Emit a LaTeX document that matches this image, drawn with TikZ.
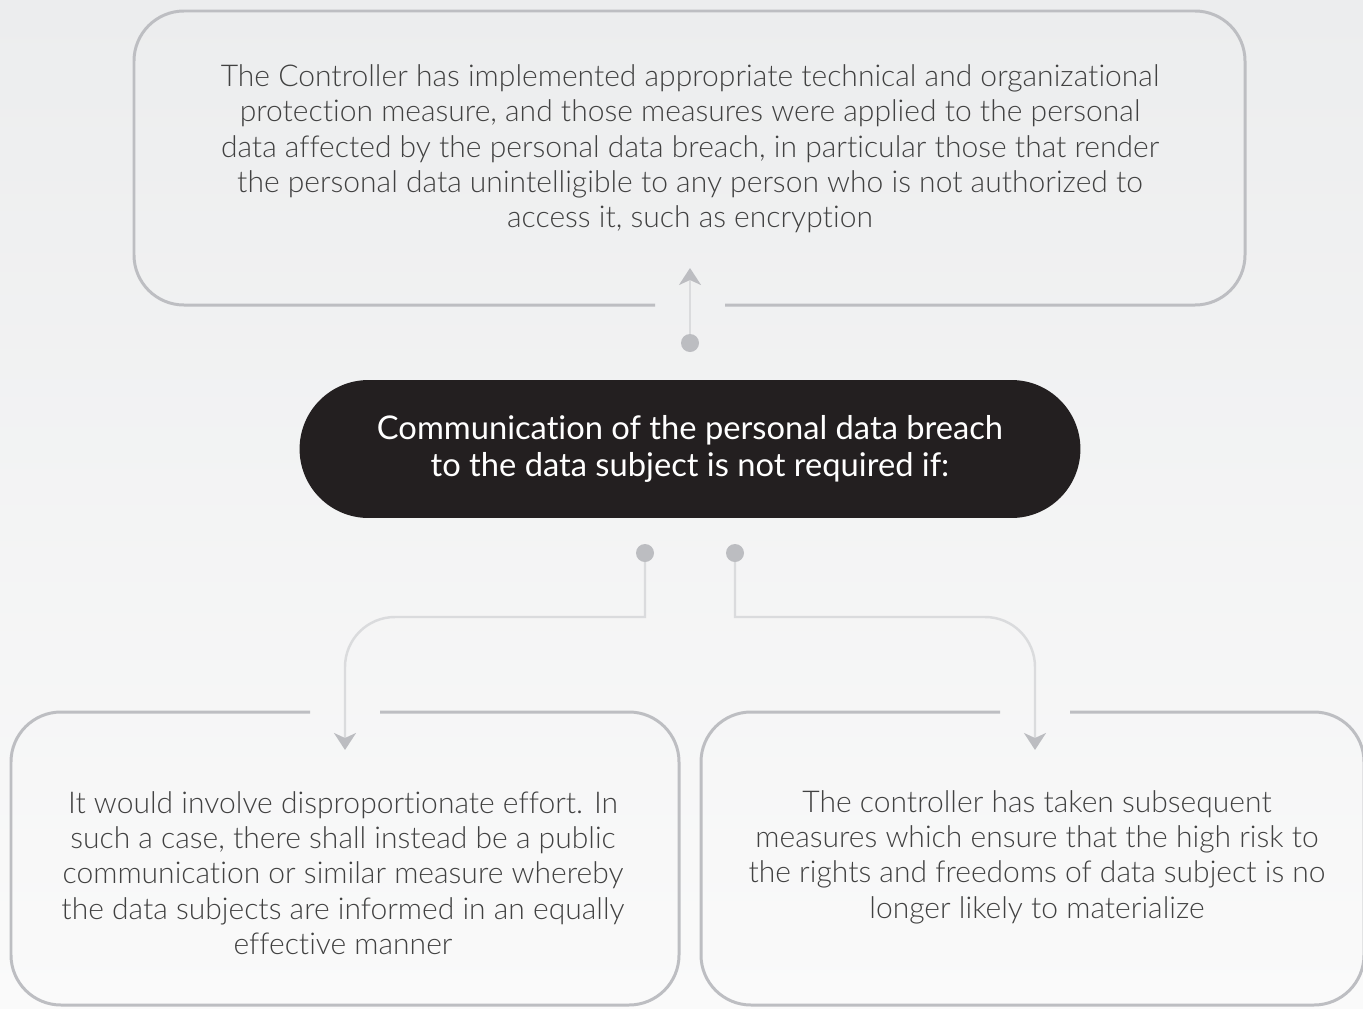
\documentclass[tikz,border=0pt]{standalone}
\usepackage{fontspec}
\setmainfont{Lato}[UprightFont=* Light, Ligatures=NoCommon]
\newfontfamily\pillfont{Lato}[Ligatures=NoCommon]
\usetikzlibrary{arrows.meta}

\definecolor{bgtop}{HTML}{ECEDEE}
\definecolor{bgbot}{HTML}{FAFAFA}
\definecolor{framegray}{HTML}{BDBEC2}
\definecolor{linkgray}{HTML}{DADBDD}
\definecolor{dotgray}{HTML}{BCBDC1}
\definecolor{inkgray}{HTML}{414141}
\definecolor{pillblack}{HTML}{231F20}

\tikzset{
  frame/.style={draw=framegray, line width=1.7pt, rounded corners=1cm},
  link/.style={draw=linkgray, line width=1.4pt, line cap=rect, rounded corners=1cm},
  txt/.style={text=inkgray, align=center, font=\fontsize{17.1}{20.1}\selectfont},
  pill/.style={fill=pillblack, text=white, align=center, rounded corners=1.38cm,
    minimum width=15.62cm, minimum height=2.76cm, font=\pillfont\fontsize{18.6}{21.5}\selectfont}
}

\begin{document}
\begin{tikzpicture}[x=0.02cm, y=-0.02cm,
    >={Stealth[length=0.34cm, width=0.44cm, inset=0.1cm, color=dotgray]}]
  \useasboundingbox (0,0) rectangle (1363,1008);
  \clip (0,0) rectangle (1363,1008);
  \shade[top color=bgtop, bottom color=bgbot] (0,0) rectangle (1363,1008);

  % frames, each with a gap where its arrow comes in
  \draw[frame] (725,305) -- (1245,305) -- (1245,11) -- (134,11) -- (134,305) -- (655,305);
  \draw[frame] (380,712) -- (679,712) -- (679,1005) -- (11,1005) -- (11,712) -- (310,712);
  \draw[frame] (1070,712) -- (1364,712) -- (1364,1005) -- (701,1005) -- (701,712) -- (1000,712);

  \node[txt] (measures) at (690,149) {The Controller has implemented appropriate technical and organizational\\
    protection measure, and those measures were applied to the personal\\
    data affected by the personal data breach, in particular those that render\\
    the personal data unintelligible to any person who is not authorized to\\
    access it, such as encryption};
  \node[pill] (main) at (690,449) {Communication of the personal data breach\\to the data subject is not required if:};
  \node[txt] (effort) at (343,873) {It would involve disproportionate effort. In\\
    such a case, there shall instead be a public\\
    communication or similar measure whereby\\
    the data subjects are informed in an equally\\
    effective manner};
  \node[txt] (taken) at (1037,857) {The controller has taken subsequent\\
    measures which ensure that the high risk to\\
    the rights and freedoms of data subject is no\\
    longer likely to materialize};

  \path (690,343) coordinate (d0) (645,553) coordinate (d1) (735,553) coordinate (d2)
        (690,268) coordinate (t0) (345,750) coordinate (t1) (1035,750) coordinate (t2);

  \draw[link,->] (d0)--(t0);
  \draw[link,->] (d1)--(645,617) (645,617)--(345,617)--(t1);
  \draw[link,->] (d2)--(735,617) (735,617)--(1035,617)--(t2);
  \foreach \d in {d0,d1,d2}{
    \fill[dotgray] (\d) circle (0.18cm);
  }
\end{tikzpicture}
\end{document}
